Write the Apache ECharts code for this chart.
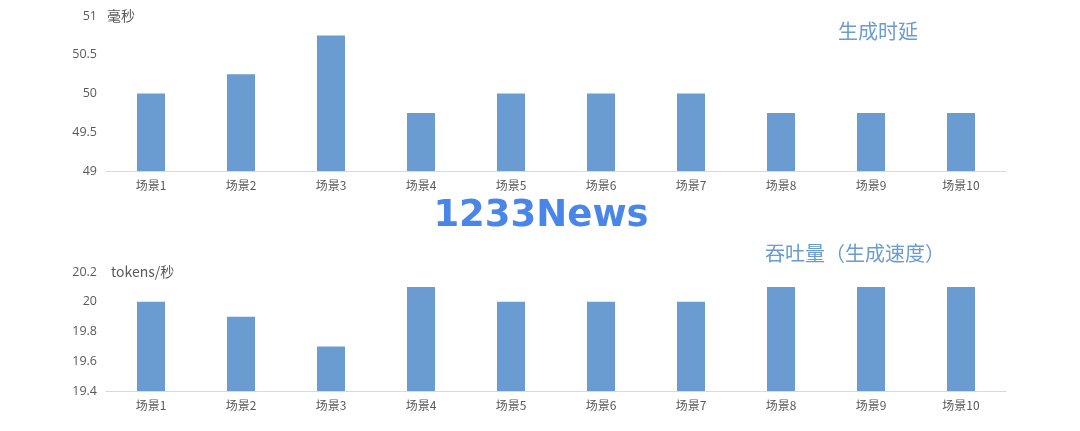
<!DOCTYPE html>
<html><head><meta charset="utf-8">
<script src="https://cdn.jsdelivr.net/npm/echarts@6/dist/echarts.min.js"></script>
<style>html,body{margin:0;padding:0;background:#fff}#c{width:1080px;height:431px}</style>
</head><body><div id="c"></div>
<script>
const categories = ['场景1','场景2','场景3','场景4','场景5','场景6','场景7','场景8','场景9','场景10'];
const latencyValues = [50, 50.25, 50.75, 49.75, 50, 50, 50, 49.75, 49.75, 49.75];
const throughputValues = [20, 19.9, 19.7, 20.1, 20, 20, 20, 20.1, 20.1, 20.1];
const latencyTitle = '生成时延';
const throughputTitle = '吞吐量（生成速度）';
const latencyUnit = '毫秒';
const throughputUnit = 'tokens/秒';
const watermark = '1233News';

const font = '"Noto Sans CJK SC","Noto Sans",sans-serif';
const labelColor = '#595959';
const barColor = '#6a9bd1';
const chart = echarts.init(document.getElementById('c'));
function xAxis(gi){
  return {type:'category', gridIndex:gi, data:categories,
    axisLine:{lineStyle:{color:'#d9d9d9'}}, axisTick:{show:false},
    axisLabel:{color:labelColor, fontSize:12, fontFamily:font, margin:8}};
}
function yAxis(gi,min,max,interval){
  return {type:'value', gridIndex:gi, min:min, max:max, interval:interval,
    axisLine:{show:false}, axisTick:{show:false}, splitLine:{show:false},
    axisLabel:{color:labelColor, fontSize:12.5, fontFamily:'"Open Sans",sans-serif', margin:9}};
}
chart.setOption({
  animation:false,
  grid:[{left:106, right:74, top:16, height:155},{left:106, right:74, top:272, height:119}],
  xAxis:[xAxis(0), xAxis(1)],
  yAxis:[yAxis(0,49,51,0.5), yAxis(1,19.4,20.2,0.2)],
  series:[
    {type:'bar', xAxisIndex:0, yAxisIndex:0, data:latencyValues, barWidth:28, itemStyle:{color:barColor}},
    {type:'bar', xAxisIndex:1, yAxisIndex:1, data:throughputValues, barWidth:28, itemStyle:{color:barColor}}
  ],
  graphic:[
    {type:'text', x:107, y:16, style:{text:latencyUnit, fill:labelColor, font:'14px '+font, verticalAlign:'middle'}},
    {type:'text', x:111, y:272, style:{text:throughputUnit, fill:labelColor, font:'14px '+font, verticalAlign:'middle'}},
    {type:'text', x:838, y:31, style:{text:latencyTitle, fill:'#6a9bd1', font:'20px '+font, verticalAlign:'middle'}},
    {type:'text', x:765, y:253, style:{text:throughputTitle, fill:'#6a9bd1', font:'20px '+font, verticalAlign:'middle'}},
    {type:'text', x:541, y:216, style:{text:watermark, fill:'#4a86e8', font:'bold 37px "DejaVu Sans",sans-serif', align:'center', verticalAlign:'middle'}}
  ]
});
</script></body></html>
